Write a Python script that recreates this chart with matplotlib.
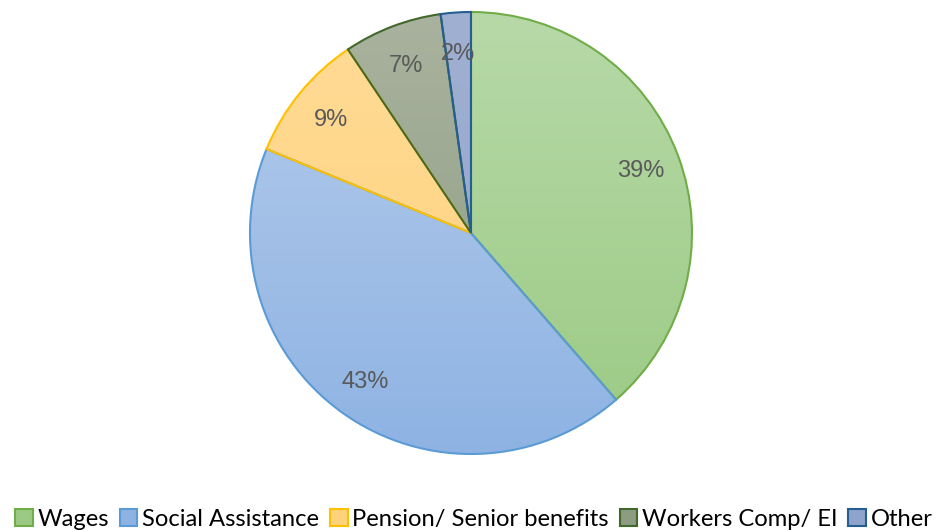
import matplotlib
matplotlib.use("Agg")
import matplotlib.pyplot as plt
import numpy as np
from matplotlib.patches import Wedge, Rectangle
from matplotlib.colors import LinearSegmentedColormap
from matplotlib import font_manager

categories = ["Wages", "Social Assistance", "Pension/ Senior benefits", "Workers Comp/ EI", "Other"]
values = [38.6, 42.6, 9.4, 7.2, 2.2]
labels = ["39%", "43%", "9%", "7%", "2%"]

top_colors = ["#b7d9a8", "#b5cceb", "#ffdb96", "#a9b29e", "#a0b0d2"]
bot_colors = ["#9bca84", "#8eb3e3", "#ffd27c", "#8b9c80", "#8fa4cc"]
edge_colors = ["#70ad47", "#5b9bd5", "#ffc000", "#43682b", "#255e91"]

names = {f.name for f in font_manager.fontManager.ttflist}
legend_font = "Liberation Sans Narrow" if "Liberation Sans Narrow" in names else "Lato"

fig = plt.figure(figsize=(9.4, 5.31), dpi=100)
ax = fig.add_axes([0, 0, 1, 1])
ax.set_xlim(0, 940)
ax.set_ylim(531, 0)
ax.axis("off")

cx, cy, r = 471, 233, 221
total = sum(values)
start = 90.0
for i, v in enumerate(values):
    sweep = 360 * v / total
    t1 = start - sweep
    w = Wedge((cx, cy), r, -start, -t1, facecolor="none", edgecolor="none")
    ax.add_patch(w)
    cmap = LinearSegmentedColormap.from_list("g%d" % i, [top_colors[i], bot_colors[i]])
    grad = np.linspace(0, 1, 256).reshape(-1, 1)
    im = ax.imshow(grad, cmap=cmap, extent=[cx - r, cx + r, cy + r, cy - r], aspect="auto", zorder=1)
    im.set_clip_path(w)
    ax.add_patch(Wedge((cx, cy), r, -start, -t1, facecolor="none",
                       edgecolor=edge_colors[i], linewidth=1.5, zorder=3))
    mid = np.deg2rad((start + t1) / 2)
    d = 0.82 * r
    ax.text(cx + d * np.cos(mid), cy - d * np.sin(mid) + 2, labels[i], ha="center", va="center",
            fontsize=17, color="#595959", family="Liberation Sans", zorder=4)
    start = t1

handles = [Rectangle((0, 0), 1, 1, facecolor=bot_colors[i], edgecolor=edge_colors[i], linewidth=1.5)
           for i in range(len(categories))]
leg = fig.legend(handles, categories, loc="lower center", bbox_to_anchor=(0.504, -0.025), ncol=5,
                 frameon=False, prop={"family": legend_font, "size": 17.1},
                 handlelength=0.75, handleheight=0.75, handletextpad=0.2, columnspacing=0.45,
                 borderaxespad=0.2)

fig.savefig("out.png", dpi=100)
